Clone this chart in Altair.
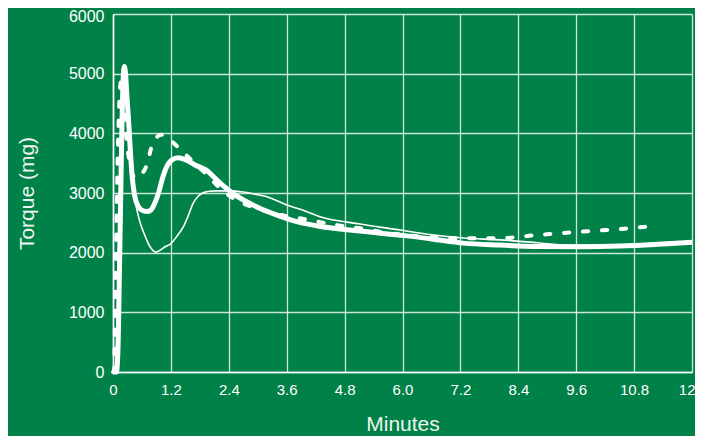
import altair as alt
import pandas as pd

# Thick solid curve
thick_x = [0.0, 0.07, 0.10, 0.14, 0.18, 0.21, 0.235, 0.26, 0.29, 0.32, 0.36, 0.40, 0.45, 0.52, 0.60,
           0.70, 0.78, 0.86, 0.94, 1.02, 1.10, 1.20, 1.35, 1.50, 1.70, 1.94, 2.10, 2.30, 2.49, 2.80,
           3.05, 3.40, 3.81, 4.30, 4.91, 5.50, 6.00, 6.60, 7.26, 8.02, 8.80, 9.68, 10.50, 11.30, 12.00]
thick_y = [0, 0, 300, 2000, 3900, 4900, 5120, 5000, 4600, 4250, 3700, 3250, 2950, 2780, 2710,
           2690, 2710, 2820, 2990, 3230, 3420, 3540, 3590, 3560, 3470, 3380, 3260, 3110, 2990, 2840,
           2740, 2630, 2520, 2440, 2380, 2330, 2290, 2230, 2160, 2128, 2105, 2100, 2110, 2140, 2175]

# Thin solid curve
thin_x = [0.0, 0.04, 0.08, 0.12, 0.16, 0.20, 0.23, 0.26, 0.30, 0.35, 0.40, 0.46, 0.53, 0.59, 0.66,
          0.73, 0.80, 0.88, 0.95, 1.08, 1.20, 1.32, 1.46, 1.56, 1.66, 1.77, 1.87, 2.00, 2.15, 2.40,
          2.70, 3.00, 3.19, 3.60, 3.88, 4.29, 5.12, 5.95, 6.60, 7.26, 8.02, 8.80, 9.40, 10.20, 11.00, 12.00]
thin_y = [0, 0, 600, 2200, 3900, 4850, 5000, 4800, 4200, 3550, 3100, 2850, 2600, 2435, 2290,
          2157, 2060, 2010, 2030, 2100, 2150, 2270, 2435, 2620, 2827, 2950, 3005, 3030, 3035, 3035,
          3016, 2970, 2938, 2800, 2726, 2603, 2480, 2380, 2300, 2245, 2215, 2165, 2125, 2125, 2150, 2190]

# Dashed curve
dash_x = [0.0, 0.02, 0.04, 0.07, 0.10, 0.13, 0.16, 0.19, 0.22, 0.28, 0.36, 0.45, 0.52, 0.60, 0.70,
          0.80, 0.90, 1.00, 1.10, 1.20, 1.32, 1.46, 1.60, 1.77, 1.94, 2.15, 2.32, 2.49, 2.84, 3.20,
          3.60, 3.88, 4.50, 5.12, 5.80, 6.64, 7.30, 7.88, 8.26, 8.71, 9.06, 9.83, 10.61, 11.06]
dash_y = [0, 0, 800, 2400, 3700, 4500, 4850, 4800, 4500, 3900, 3450, 3260, 3250, 3320, 3469,
          3776, 3930, 3975, 3950, 3880, 3790, 3680, 3570, 3440, 3310, 3134, 3010, 2911, 2780, 2690,
          2610, 2576, 2480, 2408, 2320, 2257, 2240, 2240, 2251, 2290, 2313, 2358, 2402, 2436]

x_ticks = [0, 1.2, 2.4, 3.6, 4.8, 6.0, 7.2, 8.4, 9.6, 10.8, 12]
y_ticks = [0, 1000, 2000, 3000, 4000, 5000, 6000]

BG = "#008148"
FONT = "Liberation Sans"

x_enc = alt.X(
    "minutes:Q",
    scale=alt.Scale(domain=[0, 12], nice=False, zero=False),
    axis=alt.Axis(
        values=x_ticks,
        labelExpr="datum.value == 0 ? '0' : (datum.value == 12 ? '12' : format(datum.value, '.1f'))",
        labelAlign=alt.condition("datum.value == 12", alt.value("right"), alt.value("center")),
        labelOffset=alt.condition("datum.value == 12", alt.value(3), alt.value(0)),
        title="Minutes",
        titleY=58,
        titleBaseline="alphabetic",
        labelPadding=10,
    ),
)
y_enc = alt.Y(
    "torque:Q",
    scale=alt.Scale(domain=[0, 6000], nice=False),
    axis=alt.Axis(
        values=y_ticks,
        format="d",
        labelOffset=alt.condition("datum.value == 6000", alt.value(2), alt.value(0)),
        title="Torque (mg)",
        titleX=-80,
        titleBaseline="alphabetic",
        labelPadding=9,
    ),
)


def make_layer(xs, ys, **mark_kw):
    df = pd.DataFrame({"minutes": xs, "torque": ys})
    return alt.Chart(df).mark_line(color="white", interpolate="monotone", **mark_kw).encode(
        x=x_enc, y=y_enc, order="minutes:Q"
    )


thin = make_layer(thin_x, thin_y, strokeWidth=1.6)
dashed = make_layer(dash_x, dash_y, strokeWidth=4, strokeDash=[5.3, 13.7], strokeCap="round")
thick = make_layer(thick_x, thick_y, strokeWidth=5, strokeJoin="round")

chart = (
    alt.layer(thin, dashed, thick)
    .properties(
        width=579,
        height=358,
        autosize="none",
        padding={"left": 105, "top": 6, "right": 3, "bottom": 64},
        background=BG,
    )
    .configure_view(stroke="transparent")
    .configure_axis(
        grid=True,
        gridColor="white",
        gridOpacity=0.8,
        gridWidth=1.3,
        domainColor="white",
        domainWidth=1.6,
        ticks=False,
        tickSize=0,
        labelColor="white",
        labelFont=FONT,
        labelFontSize=15,
        titleColor="#eef4f0",
        titleFont=FONT,
        titleFontSize=21,
        titleFontWeight="normal",
    )
    .configure_axisY(labelFontSize=16)
)

chart.save("out.html", embed_options={"renderer": "svg", "actions": False})
